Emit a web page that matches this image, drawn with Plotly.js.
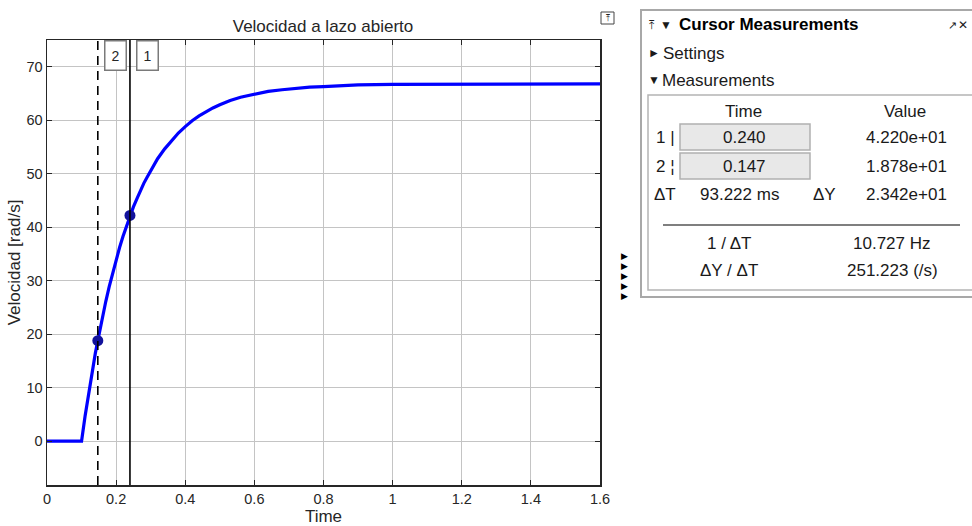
<!DOCTYPE html>
<html>
<head>
<meta charset="utf-8">
<script src="https://cdn.plot.ly/plotly-3.0.1.min.js"></script>
<style>html,body{margin:0;padding:0;background:#fff;}#chart{width:972px;height:526px;}</style>
</head>
<body>
<div id="chart"></div>
<script>
// ---- data ----
const timeVals = [0, 0.1, 0.11, 0.12, 0.13, 0.14, 0.147, 0.16, 0.17, 0.18, 0.19, 0.2, 0.21, 0.22, 0.23, 0.24, 0.25, 0.26, 0.27, 0.28, 0.29, 0.3, 0.32, 0.34, 0.36, 0.38, 0.4, 0.42, 0.44, 0.46, 0.48, 0.5, 0.53, 0.56, 0.6, 0.64, 0.68, 0.72, 0.76, 0.8, 0.85, 0.9, 1.0, 1.1, 1.2, 1.4, 1.6];
const velocity = [0, 0, 4.6, 8.8, 12.8, 16.5, 18.78, 23.2, 26.1, 28.9, 31.5, 33.9, 36.2, 38.3, 40.2, 42.2, 43.8, 45.3, 46.8, 48.2, 49.4, 50.6, 52.8, 54.6, 56.2, 57.6, 58.8, 59.9, 60.8, 61.6, 62.3, 62.9, 63.7, 64.3, 64.9, 65.4, 65.7, 66.0, 66.2, 66.3, 66.5, 66.6, 66.7, 66.7, 66.8, 66.8, 66.8];
const cursorIds = ["1", "2"];
const cursorTime = [0.240, 0.147];
const cursorValue = [42.20, 18.78];
const cursorDash = ["solid", "dash"];
const xTicks = [0, 0.2, 0.4, 0.6, 0.8, 1, 1.2, 1.4, 1.6];
const yTicks = [0, 10, 20, 30, 40, 50, 60, 70];
const titleText = "Velocidad a lazo abierto";
const xTitle = "Time";
const yTitle = "Velocidad [rad/s]";
const panelTitle = "Cursor Measurements";
const measRows = [
  ["1 |", "0.240", "4.220e+01"],
  ["2 ¦", "0.147", "1.878e+01"]
];
const deltaRow = ["ΔT", "93.222 ms", "ΔY", "2.342e+01"];
const derivedRows = [["1 / ΔT", "10.727 Hz"], ["ΔY / ΔT", "251.223 (/s)"]];

// ---- pixel -> paper helpers (layout only) ----
const L = 47, R = 600, T = 40, B = 485;
const px = x => (x - L) / (R - L);
const py = y => (B - y) / (B - T);
const FONT = "Liberation Sans, Arial, sans-serif";

const traces = [
  {x: timeVals, y: velocity, type: "scatter", mode: "lines",
   line: {color: "#0000ff", width: 3.2}, hoverinfo: "skip", showlegend: false},
  {x: cursorTime, y: cursorValue, type: "scatter", mode: "markers",
   marker: {color: "#12129c", size: 11}, hoverinfo: "skip", showlegend: false}
];

const shapes = [];
const annotations = [];

cursorTime.forEach((t, i) => {
  shapes.push({type: "line", xref: "x", yref: "paper", x0: t, x1: t, y0: 0, y1: 1,
    line: {color: "#000000", width: 1.6, dash: cursorDash[i] === "dash" ? "9px,6px" : "solid"}});
  annotations.push({xref: "x", yref: "paper", x: t, y: 1, xanchor: "left", yanchor: "top",
    xshift: 6, yshift: 0, text: cursorIds[i], showarrow: false,
    font: {family: FONT, size: 14, color: "#262626"},
    bgcolor: "#ffffff", bordercolor: "#7a7a7a", borderwidth: 1.5, borderpad: 6});
});

// ---- Cursor measurement panel ----
function rect(x0, y0, x1, y1, line, fill, w) {
  shapes.push({type: "rect", xref: "paper", yref: "paper", x0: px(x0), x1: px(x1), y0: py(y1), y1: py(y0),
    line: {color: line, width: w || 1}, fillcolor: fill || "rgba(0,0,0,0)", layer: "above"});
}
function txt(x, y, s, opts) {
  opts = opts || {};
  annotations.push({xref: "paper", yref: "paper", x: px(x), y: py(y), text: s, showarrow: false,
    xanchor: opts.anchor || "center", yanchor: "middle",
    font: {family: FONT, size: opts.size || 17, color: opts.color || "#1a1a1a"}});
}
rect(641, 10, 980, 297, "#a8a8a8", "#ffffff", 2);
rect(648, 95, 980, 290, "#b4b4b4", "#ffffff", 1.5);
txt(652, 25, "⤒", {anchor: "center", size: 12});
txt(666, 25, "▼", {size: 12});
txt(677, 25, "<b>" + panelTitle + "</b>", {anchor: "left", size: 17, color: "#000000"});
txt(952, 25, "↗", {size: 11});
txt(963, 25, "✕", {size: 12});
txt(646, 53, "►", {anchor: "left", size: 12});
txt(661, 53, "Settings", {anchor: "left", size: 17});
txt(646, 80, "▼", {anchor: "left", size: 12});
txt(660, 80, "Measurements", {anchor: "left", size: 17});
txt(743, 111, "Time", {size: 17});
txt(905, 111, "Value", {size: 17});
measRows.forEach((r, i) => {
  const yc = 137 + i * 29;
  rect(680, yc - 13, 810, yc + 13, "#b0b0b0", "#e8e8e8", 1.5);
  txt(654, yc, r[0], {anchor: "left", size: 17});
  txt(744, yc, r[1], {size: 17});
  txt(906, yc, r[2], {size: 17});
});
txt(665, 194, deltaRow[0], {size: 17});
txt(739, 194, deltaRow[1], {size: 17});
txt(824, 194, deltaRow[2], {size: 17});
txt(906, 194, deltaRow[3], {size: 17});
shapes.push({type: "line", xref: "paper", yref: "paper", x0: px(663), x1: px(960), y0: py(225), y1: py(225),
  line: {color: "#000000", width: 1.2}});
derivedRows.forEach((r, i) => {
  const yc = 243 + i * 27;
  txt(729, yc, r[0], {size: 17});
  txt(892, yc, r[1], {size: 17});
});
[256, 266, 276, 286, 296].forEach(y => txt(624, y, "▶", {size: 9, color: "#000"}));
rect(601, 12, 614, 24, "#444444", "#ffffff", 1);
txt(607.5, 18, "⤒", {size: 9, color: "#222"});

const layout = {
  width: 972, height: 526,
  margin: {l: L, r: 972 - R, t: T, b: 526 - B},
  paper_bgcolor: "#ffffff", plot_bgcolor: "#ffffff",
  font: {family: FONT, color: "#262626", size: 14},
  title: {text: titleText, xref: "container", x: 323 / 972, xanchor: "center",
    yref: "container", y: 1 - 26 / 526, yanchor: "middle",
    font: {family: FONT, size: 17, color: "#262626"}},
  xaxis: {range: [0, 1.6], tickvals: xTicks, ticks: "inside", ticklen: 5, tickcolor: "#262626",
    showline: true, linecolor: "#262626", linewidth: 1.5, mirror: "ticks",
    showgrid: true, gridcolor: "#c4c4c4", gridwidth: 1, zeroline: false,
    tickfont: {size: 14.5, color: "#262626"},
    title: {text: xTitle, standoff: 2, font: {size: 17, color: "#262626"}}},
  yaxis: {range: [-8.2, 75], tickvals: yTicks, ticks: "inside", ticklen: 5, tickcolor: "#262626",
    showline: true, linecolor: "#262626", linewidth: 1.5, mirror: "ticks",
    showgrid: true, gridcolor: "#c4c4c4", gridwidth: 1, zeroline: false,
    tickfont: {size: 14.5, color: "#262626"},
    title: {text: yTitle, standoff: 1, font: {size: 17, color: "#262626"}}},
  shapes: shapes,
  annotations: annotations,
  showlegend: false
};

Plotly.newPlot("chart", traces, layout, {displayModeBar: false, staticPlot: true});
</script>
</body>
</html>
